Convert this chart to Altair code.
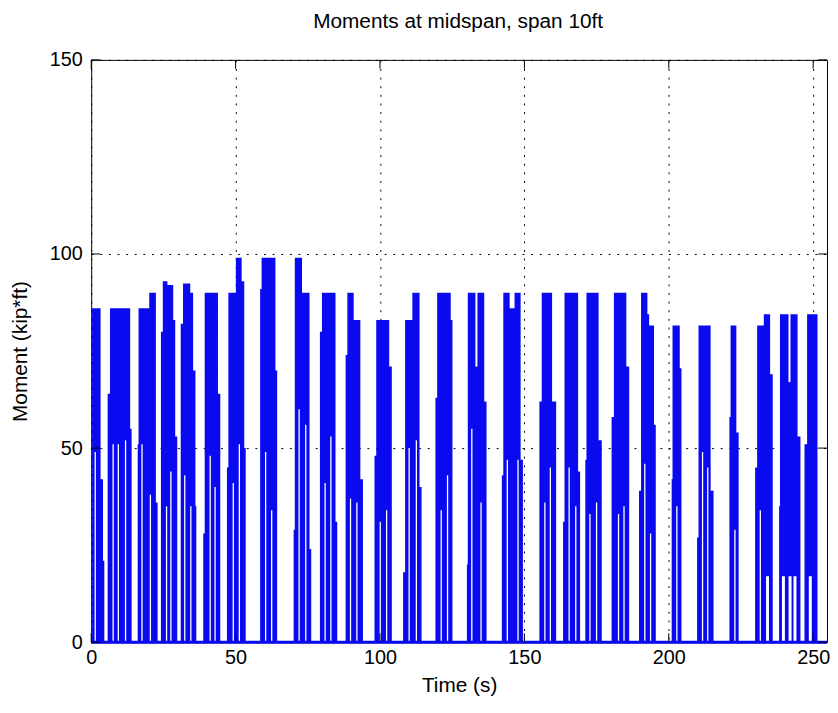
import altair as alt
import pandas as pd

# ---- data ----
# step envelope of the moment signal (time s, moment kip*ft); value holds until next time
env_t = [0.0, 0.3, 3.25, 4.1, 4.55,
         5.7, 6.5, 13.5, 14.0,
         16.1, 16.4, 20.1, 22.4, 23.0,
         24.15, 24.8, 26.4, 28.4, 29.1, 29.8,
         31.0, 31.8, 34.3, 35.3, 36.1, 36.4,
         38.8, 39.3, 43.9, 44.7,
         47.0, 47.5, 50.1, 52.1, 53.0, 53.5,
         58.5, 59.0, 63.8, 64.4,
         70.1, 70.5, 73.0, 75.6, 76.2,
         79.2, 79.9, 84.6, 85.2,
         88.1, 88.7, 90.9, 93.2, 94.1,
         98.1, 98.7, 103.2, 104.1,
         108.0, 108.7, 111.2, 113.7, 114.4,
         119.2, 119.8, 124.5, 125.1,
         130.1, 130.4, 136.1, 136.9,
         142.2, 142.7, 144.9, 146.6, 148.7, 149.5,
         155.2, 156.0, 159.6, 161.0,
         163.4, 163.9, 168.6, 169.3,
         171.1, 171.5, 175.7, 176.8,
         180.2, 181.0, 185.3, 186.3,
         189.7, 190.4, 192.6, 193.2, 194.9, 195.5,
         201.0, 201.3, 203.8, 204.4,
         209.8, 210.3, 214.5, 215.5,
         221.0, 221.4, 223.4, 224.2,
         229.9, 230.6, 232.9, 235.1, 236.0,
         238.2, 238.5, 244.6, 245.6,
         247.0, 247.9, 251.5,
         254.8]
env_v = [0, 86, 42, 21, 0,
         64, 86, 55, 0,
         51, 86, 90, 36, 0,
         80, 93, 92, 83, 53, 0,
         82, 92.4, 90, 70, 35, 0,
         28, 90, 64, 0,
         45, 90, 99, 93, 50, 0,
         91, 99, 70, 0,
         29, 99, 90, 24, 0,
         80, 90, 31, 0,
         74, 90, 83, 42, 0,
         48, 83, 71, 0,
         18, 83, 90, 40, 0,
         63, 90, 83, 0,
         20, 90, 62, 0,
         43, 90, 86, 90, 47, 0,
         62, 90, 62, 0,
         31, 90, 44, 0,
         47, 90, 52, 0,
         58, 90, 71, 0,
         39, 90, 84.5, 81.6, 56, 0,
         42, 81.6, 70.6, 0,
         27, 81.6, 39, 0,
         58, 81.6, 54, 0,
         45, 81.6, 84.5, 69, 0,
         35, 84.5, 53, 0,
         51, 84.5, 0,
         0]

# thin white gaps in the lower part of the bursts (time, top of gap)
gap_t = [1.4, 7.6, 9.4, 11.9, 17.6, 20.5, 26.1, 27.6, 32.4, 34.5, 41.2, 42.9,
         49.2, 51.3, 60.4, 62.5, 72.0, 74.3, 81.0, 83.0, 89.8, 92.0, 100.1, 102.3,
         110.1, 112.6, 121.2, 123.4, 131.8, 135.0, 144.1, 147.8, 157.1, 159.0,
         165.5, 167.8, 172.7, 175.0, 182.6, 184.5, 191.7, 193.7, 202.8, 211.7,
         213.5, 222.9, 231.7]
gap_top = [49, 51, 51, 52, 51, 38, 35, 44, 43, 35, 48, 40,
           41, 51, 49, 34, 60, 56, 41, 53, 37, 36, 31, 34,
           50, 52, 34, 43, 55, 36, 47, 47, 36, 45,
           45, 35, 33, 36, 33, 35, 46, 28, 35, 49,
           45, 29, 34]

# wider white gaps near the bottom of the last bursts
low_gap_t = [234.2, 239.7, 242.0, 243.7, 249.0]
low_gap_top = [17, 17, 17, 17, 17]

# white notches inside the top of some bursts
notch_t = [133.4, 241.8]
notch_lo = [71, 67]
notch_hi = [90.5, 85]

x_ticks = [0, 50, 100, 150, 200, 250]
y_ticks = [0, 50, 100, 150]
t_end = 254.8
title_text = ["Moments at midspan, span 10ft"]

# ---- chart ----
W, H = 743, 588
BLUE = "#0a0af0"
FONT = "Liberation Sans"
FS = 21
LFS = 20

xs = alt.Scale(domain=[0, t_end], nice=False, zero=False)
ys = alt.Scale(domain=[0, 150], nice=False)

x_axis = alt.Axis(values=x_ticks, title="Time (s)", grid=True, gridDash=[2, 6.7],
                  gridColor="black", gridOpacity=1, gridWidth=1, ticks=False, tickSize=0,
                  domain=False, labelFontSize=LFS, labelFont=FONT, labelColor="black",
                  labelPadding=5, labelFlush=False, titleFontSize=FS, titleFont=FONT,
                  titleFontWeight="normal", titleColor="black", titleY=50,
                  titleBaseline="alphabetic")
y_axis = alt.Axis(values=y_ticks, title="Moment (kip*ft)", grid=True, gridDash=[2, 6.7],
                  gridColor="black", gridOpacity=1, gridWidth=1, ticks=False, tickSize=0,
                  domain=False, labelFontSize=LFS, labelFont=FONT, labelColor="black",
                  labelPadding=9, labelFlush=False, titleFontSize=FS, titleFont=FONT,
                  titleFontWeight="normal", titleColor="black", titleX=-65, titleY=H / 2,
                  titleBaseline="alphabetic")

X = lambda f: alt.X(f, type="quantitative", scale=xs, axis=x_axis)
Y = lambda f: alt.Y(f, type="quantitative", scale=ys, axis=y_axis)

env_df = pd.DataFrame({"t": env_t, "v": env_v})
area = alt.Chart(env_df).mark_area(interpolate="step-after", color=BLUE, opacity=1).encode(
    x=X("t"), y=Y("v"))

gap_df = pd.DataFrame({"t": gap_t, "lo": [0] * len(gap_t), "v": gap_top})
gaps = alt.Chart(gap_df).mark_rule(color="white", strokeWidth=1.3).encode(
    x=X("t"), y=Y("lo"), y2="v:Q")

low_df = pd.DataFrame({"t": low_gap_t, "lo": [0] * len(low_gap_t), "v": low_gap_top})
low_gaps = alt.Chart(low_df).mark_rule(color="white", strokeWidth=3).encode(
    x=X("t"), y=Y("lo"), y2="v:Q")

notch_df = pd.DataFrame({"t": notch_t, "lo": notch_lo, "v": notch_hi})
notches = alt.Chart(notch_df).mark_rule(color="white", strokeWidth=2).encode(
    x=X("t"), y=Y("lo"), y2="v:Q")

base_df = pd.DataFrame({"t": [0], "t1": [t_end], "lo": [0]})
base = alt.Chart(base_df).mark_rule(color=BLUE, strokeWidth=3).encode(
    x=X("t"), x2="t1:Q", y=Y("lo"))

yt_df = pd.DataFrame({"v": y_ticks})
xt_df = pd.DataFrame({"t": x_ticks})
TL = 9
tick_left = alt.Chart(yt_df).mark_rule(color="black").encode(
    y=Y("v"), x=alt.value(0), x2=alt.value(TL))
tick_right = alt.Chart(yt_df).mark_rule(color="black").encode(
    y=Y("v"), x=alt.value(W - TL), x2=alt.value(W))
tick_bottom = alt.Chart(xt_df).mark_rule(color="black").encode(
    x=X("t"), y=alt.value(H - TL), y2=alt.value(H))
tick_top = alt.Chart(xt_df).mark_rule(color="black").encode(
    x=X("t"), y=alt.value(0), y2=alt.value(TL))

title = alt.Chart(pd.DataFrame({"label": title_text})).mark_text(
    font=FONT, fontSize=FS, color="black", align="center", baseline="alphabetic"
).encode(text="label:N", x=alt.value(W / 2 - 1), y=alt.value(-32))

chart = alt.layer(area, gaps, low_gaps, notches, base,
                  tick_left, tick_right, tick_bottom, tick_top, title).properties(
    width=W, height=H,
    autosize=alt.AutoSizeParams(type="none"),
    padding={"left": 84, "top": 49, "right": 3, "bottom": 58},
    background="white",
).configure_view(stroke="black", strokeWidth=1)

chart.save("out.html", embed_options={"renderer": "svg", "actions": False})
